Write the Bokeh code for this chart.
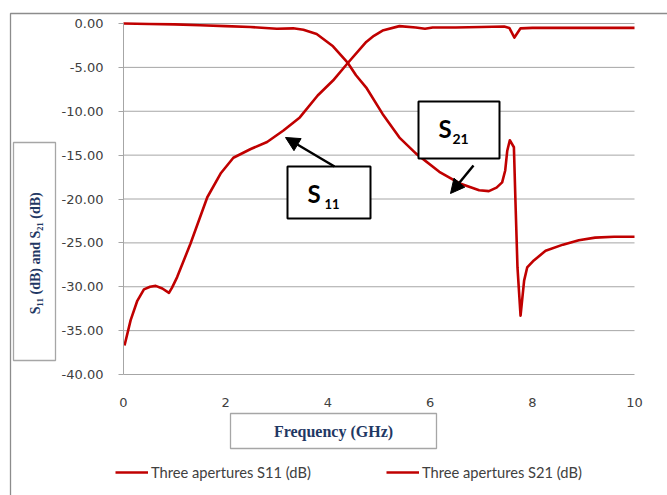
import math
from bokeh.plotting import figure
from bokeh.models import (Range1d, PrintfTickFormatter, FixedTicker, Label, LinearAxis,
                          BoxAnnotation, Arrow, NormalHead, Legend, LegendItem)
from bokeh.embed import file_html
from bokeh.resources import INLINE

# Measured reflection (S11) and transmission (S21) of the three-aperture structure
freq_s11 = [0.02, 0.14, 0.27, 0.40, 0.52, 0.63, 0.76, 0.89, 0.95, 1.05, 1.31, 1.64, 1.90,
            2.15, 2.49, 2.81, 3.13, 3.45, 3.80, 4.10, 4.39, 4.75, 4.90, 5.07, 5.40, 5.72,
            5.90, 6.05, 6.50, 7.00, 7.45, 7.55, 7.65, 7.77, 8.00, 8.50, 9.00, 9.50, 10.00]
s11_db = [-36.7, -33.8, -31.6, -30.3, -30.0, -29.9, -30.2, -30.7, -30.1, -28.9, -25.1, -19.8,
          -17.1, -15.3, -14.3, -13.5, -12.2, -10.7, -8.2, -6.5, -4.5, -2.1, -1.4, -0.8, -0.3,
          -0.45, -0.6, -0.45, -0.45, -0.4, -0.35, -0.5, -1.6, -0.55, -0.5, -0.5, -0.5, -0.5,
          -0.5]

freq_s21 = [0.00, 0.50, 1.00, 1.50, 2.00, 2.48, 3.00, 3.32, 3.52, 3.78, 4.10, 4.39, 4.55,
            4.75, 5.07, 5.40, 5.72, 6.18, 6.57, 6.96, 7.15, 7.30, 7.41, 7.47, 7.51, 7.56,
            7.64, 7.67, 7.71, 7.77, 7.84, 7.90, 8.03, 8.26, 8.60, 8.91, 9.23, 9.60, 10.00]
s21_db = [0.0, -0.05, -0.1, -0.2, -0.3, -0.4, -0.6, -0.55, -0.72, -1.2, -2.6, -4.5, -5.9,
          -7.3, -10.3, -13.0, -14.8, -16.9, -18.2, -19.0, -19.1, -18.7, -18.1, -16.75, -14.5,
          -13.3, -14.1, -20.2, -27.8, -33.3, -29.3, -27.8, -27.0, -25.9, -25.2, -24.7, -24.4,
          -24.3, -24.3]

x_ticks = [0, 2, 4, 6, 8, 10]
y_ticks = [0, -5, -10, -15, -20, -25, -30, -35, -40]

series_names = ["Three apertures S11 (dB)", "Three apertures S21 (dB)"]

RED = "#c00000"
GRID = "#a6a6a6"
NAVY = "#1f3864"
TEXT = "#404040"

W, H = 667, 495
# plotting area of the chart, in page pixels
FL, FR, FT, FB = 123, 634, 23, 374
XMIN, XMAX, YMIN, YMAX = 0.0, 10.0, -40.0, 0.0

def dx(px):
    return XMIN + (px - FL) / (FR - FL) * (XMAX - XMIN)

def dy(py):
    return YMAX - (py - FT) / (FB - FT) * (YMAX - YMIN)

# the canvas is one big frame; axes sit at fixed locations inside it
p = figure(width=W, height=H, output_backend="svg", toolbar_location=None,
           x_range=Range1d(dx(0), dx(W)), y_range=Range1d(dy(H), dy(0)),
           x_axis_location=None, y_axis_location=None,
           min_border=0)
p.outline_line_color = None
p.xgrid.visible = False
p.ygrid.visible = False

yaxis = LinearAxis(fixed_location=XMIN, bounds=(YMIN, YMAX),
                   ticker=FixedTicker(ticks=y_ticks),
                   formatter=PrintfTickFormatter(format="%.2f"))
xaxis = LinearAxis(fixed_location=YMIN, bounds=(XMIN, XMAX),
                   ticker=FixedTicker(ticks=x_ticks))
for ax in (xaxis, yaxis):
    ax.major_label_text_font = "DejaVu Sans"
    ax.major_label_text_font_size = "13px"
    ax.major_label_text_color = TEXT
    ax.minor_tick_line_color = None
xaxis.axis_line_color = None
xaxis.major_tick_line_color = None
xaxis.major_label_standoff = 17
yaxis.axis_line_color = GRID
yaxis.major_tick_line_color = GRID
yaxis.major_tick_in = 0
yaxis.major_tick_out = 5
yaxis.major_label_standoff = 15
p.add_layout(yaxis, "left")
p.add_layout(xaxis, "below")

# horizontal gridlines at the y ticks, across the plotting area
p.segment(x0=[XMIN] * len(y_ticks), x1=[XMAX] * len(y_ticks), y0=y_ticks, y1=y_ticks,
          line_color=GRID, line_width=1)

r11 = p.line(freq_s11, s11_db, line_color=RED, line_width=2.6, line_join="round")
r21 = p.line(freq_s21, s21_db, line_color=RED, line_width=2.6, line_join="round")

def box(left, top, right, bottom, color, width=1.3, fill=None):
    p.add_layout(BoxAnnotation(left=dx(left), right=dx(right), top=dy(top), bottom=dy(bottom),
                               fill_color=fill, fill_alpha=1.0 if fill else 0.0,
                               line_color=color, line_alpha=1.0, line_width=width))

# chart border and axis title boxes
box(10, 13, W + 20, H + 20, "#8c8c8c")
box(13, 142, 55, 360, GRID)
box(230, 413, 436, 448, GRID)
p.add_layout(Label(x=dx(35), y=dy(251), text="S\u2081\u2081 (dB)  and S\u2082\u2081 (dB)",
                   angle=math.pi / 2, text_align="center", text_baseline="middle",
                   text_font="Liberation Serif", text_font_style="bold",
                   text_font_size="14px", text_color=NAVY))
p.add_layout(Label(x=dx(333), y=dy(431), text="Frequency (GHz)",
                   text_align="center", text_baseline="middle",
                   text_font="Liberation Serif", text_font_style="bold",
                   text_font_size="16px", text_color=NAVY))

# callout boxes with arrows
def callout(left, top, right, bottom, sub, sub_dx, sub_size, tail, head):
    box(left, top, right, bottom, "black", width=2, fill="white")
    p.add_layout(Label(x=dx(left + 20), y=dy(top + 27), text="S", text_align="left",
                       text_baseline="middle", text_font="Lato",
                       text_font_style="bold", text_font_size="24px", text_color="black"))
    p.add_layout(Label(x=dx(left + sub_dx), y=dy(top + 37), text=sub, text_align="left",
                       text_baseline="middle", text_font="Lato",
                       text_font_style="bold", text_font_size=sub_size, text_color="black"))
    p.add_layout(Arrow(x_start=dx(tail[0]), y_start=dy(tail[1]),
                       x_end=dx(head[0]), y_end=dy(head[1]),
                       line_color="black", line_width=2.5,
                       end=NormalHead(size=14, fill_color="black", line_color="black")))

callout(287, 166, 370, 218, "11", 37, "13px", (334, 166), (285, 137))
callout(418, 101, 499, 158, "21", 34, "14px", (473, 165), (450, 193))

legend = Legend(items=[LegendItem(label=series_names[0], renderers=[r11]),
                       LegendItem(label=series_names[1], renderers=[r21])],
                orientation="horizontal", location=(115, H - 481),
                glyph_width=33, glyph_height=16, label_height=16, label_width=231,
                label_standoff=3, spacing=4, padding=0, margin=0,
                border_line_color=None, background_fill_alpha=0,
                label_text_font="Lato", label_text_font_size="14.7px",
                label_text_color=TEXT)
p.add_layout(legend, "center")

open("out.html", "w").write(file_html(p, INLINE))
